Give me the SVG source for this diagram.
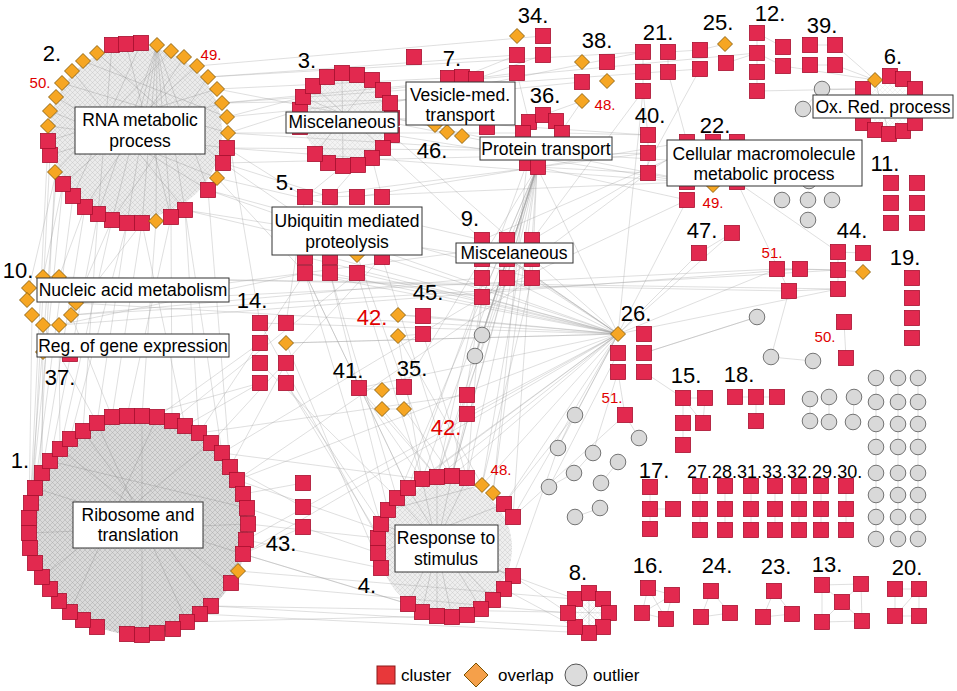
<svg xmlns="http://www.w3.org/2000/svg" xmlns:xlink="http://www.w3.org/1999/xlink" width="957" height="691" viewBox="0 0 957 691">
<style>
.e{stroke:#9c9c9c;stroke-width:.55;opacity:.6;fill:none}
.ei{stroke:#7c7c7c;stroke-width:.5;opacity:.55;fill:none}
.num{font-family:"Liberation Sans",Arial,sans-serif;font-size:22px;fill:#000;text-anchor:middle}
.red{font-family:"Liberation Sans",Arial,sans-serif;font-size:15px;fill:#e00000;text-anchor:middle}
.bigred{font-family:"Liberation Sans",Arial,sans-serif;font-size:22px;fill:#e00000;text-anchor:middle}
.box{fill:#fff;stroke:#333;stroke-width:1}
.bt{font-family:"Liberation Sans",Arial,sans-serif;font-size:17.5px;fill:#000;text-anchor:middle}
.leg{font-family:"Liberation Sans",Arial,sans-serif;font-size:17px;fill:#000}
</style>
<defs>
<rect id="s" x="-7.5" y="-7.5" width="15" height="15" fill="#e2294f" stroke="#a8102f" stroke-width="0.8"/>
<path id="d" d="M0,-7.5L7.5,0L0,7.5L-7.5,0Z" fill="#f6a623" stroke="#7a5200" stroke-width="0.8"/>
<circle id="o" r="7.8" fill="#d9d9d9" stroke="#666" stroke-width="0.9"/>
<pattern id="mesh" width="5" height="5" patternUnits="userSpaceOnUse">
<path d="M0,0L5,5M5,0L0,5" stroke="#a0a0a0" stroke-width="0.4" fill="none"/>
</pattern>
</defs>
<rect width="957" height="691" fill="#fff"/>

<g id="connectors">
<circle cx="139" cy="526" r="109" fill="#dadada"/>
<circle cx="139" cy="526" r="109" fill="url(#mesh)"/>
<circle cx="136" cy="132" r="86" fill="#ebebeb"/>
<circle cx="136" cy="132" r="86" fill="url(#mesh)" opacity=".6"/>
<circle cx="446" cy="548" r="66" fill="#eeeeee"/>
<circle cx="446" cy="548" r="66" fill="url(#mesh)" opacity=".55"/>
<circle cx="345" cy="120" r="42" fill="#f3f3f3"/>
<circle cx="345" cy="120" r="42" fill="url(#mesh)" opacity=".35"/>
<circle cx="889" cy="105" r="22" fill="url(#mesh)" opacity=".3"/>
<circle cx="589" cy="613" r="16" fill="url(#mesh)" opacity=".3"/>
<path class="ei" d="M157,45L127,223M157,45L142,223M157,45L156,221M157,45L171,217M157,45L112,220M157,45L185,210M48,126L227,148M56,97L208,190M72,71L185,210M97,53L223,163M62,83L228,133M50,111L217,178M112,45L98,214M141,43L73,196M197,66L63,184M222,103L50,155M184,57L85,207M171,51L55,172M208,77L112,220M126,44L171,217M83,61L227,117M217,89L48,141M157,45L98,214M157,45L208,190"/>
<path class="ei" d="M50,461L247,508M60,449L231,583M97,423L187,622M35,488L243,554M157,417L70,612M211,443L42,577M29,533L248,524M142,416L142,635M83,431L211,606"/>
<path class="ei" d="M422,479L452,617M437,477L437,616M452,476L422,612M397,498L493,600M381,524L513,576M408,488L481,609M467,478L408,604M378,553L504,504M482,485L388,510"/>
<path class="ei" d="M342,73L343,166M313,86L383,148M372,80L315,154M303,97L392,135M875,80L889,134M863,89L915,123M575,599L603,627M603,599L575,627M589,593L589,633"/>
<path class="e" d="M57,169L29,518M63,184L31,503M73,196L35,488M85,207L42,473M98,214L50,461M112,220L60,449M127,223L97,423M142,223L112,417M156,221L142,416M171,217L172,421M185,210L199,433M208,190L230,467M48,141L29,533M50,155L30,548M55,172L35,563M127,223L70,439M98,214L83,431M171,217L127,416M185,210L222,453M142,223L185,426"/>
<path class="e" d="M228,133L300,110M227,117L303,97M222,103L406,100M217,89L448,78M208,77L517,55M197,66L543,36M227,148L305,197M223,163L330,197M217,178L482,240M208,190L618,334M185,210L456,253M228,133L667,160M222,103L757,53M217,89L713,185M208,77L643,52M227,148L480,150M223,163L357,255M228,133L523,133M217,178L305,273M227,117L582,82M223,163L648,153M208,190L532,278M185,210L382,257M227,148L687,182M222,103L700,69"/>
<path class="e" d="M392,118L480,137M383,148L482,240M392,135L618,334M390,103L643,52M372,158L382,197M358,165L330,197M343,166L305,197M392,118L648,135M383,90L517,73M392,135L687,182M435,125L392,118"/>
<path class="e" d="M537,167L482,297M537,167L507,278M537,167L532,278M537,167L452,476M537,167L467,478M537,167L422,479M537,167L482,485M537,167L467,395M537,167L475,356M537,167L513,517M537,167L404,387M537,167L618,334M537,167L437,477M537,167L482,335M527,163L408,488M582,101L543,115M582,101L537,167M517,73L529,122M543,55L476,79M517,55L462,77M447,132L462,136M537,167L397,498M527,163L493,493"/>
<path class="e" d="M618,334L305,273M618,334L330,273M618,334L357,273M618,334L382,257M618,334L482,297M618,334L507,278M618,334L532,278M618,334L423,316M618,334L398,315M618,334L452,476M618,334L482,485M618,334L513,517M618,334L504,504M618,334L467,414M618,334L437,477M618,334L359,388M618,334L260,323M618,334L286,343M618,334L246,540M618,334L243,554M618,334L838,289M618,334L777,269M618,334L732,233M618,334L643,91M618,334L575,415M618,334L558,448M618,372L593,452M618,353L549,487M618,334L687,200M618,334L482,240M618,334L422,479M618,334L408,488M618,334L305,257M618,334L330,257M618,334L507,259M618,334L237,480"/>
<path class="e" d="M248,524L378,538M246,540L381,568M243,554L408,604M231,583L568,613M211,606L575,627M200,614L589,633M238,571L575,599M247,508L378,553M243,494L303,483M230,467L303,507M222,453L422,479M237,480L513,576M243,554L452,617M199,433L305,273M211,443L382,257M185,426L260,383M172,421L357,273M211,606L609,613M187,622L437,616M243,554L303,527M230,467L286,363M157,417L260,343M222,453L482,297M237,480L532,278M199,433L467,395"/>
<path class="e" d="M422,479L359,388M437,477L382,409M452,476L404,409M467,478L423,334M482,485L398,336M408,488L305,273M397,498L260,363M381,524L286,383M388,510L330,273M452,476L467,414M493,493L537,167M504,504L575,415M513,576L568,613M504,589L575,627M513,576L575,599M305,273L408,488M330,273L397,498M357,273L422,479M357,255L437,477M382,257L452,476M305,273L381,524M359,388L382,390M382,390L404,387M398,315L423,316M398,336L423,334M382,409L404,409M467,395L467,414M422,479L398,336M437,477L359,388M378,538L260,323M381,568L286,343M467,478L482,297M452,476L507,278M437,477L482,278"/>
<path class="e" d="M71,315L838,270M76,303L777,269M59,277L789,291M43,277L838,289M59,325L800,269M43,277L63,184M59,277L85,207M76,303L112,220M71,315L142,223M29,288L57,169M43,325L42,473M59,325L60,449M32,315L29,518M71,315L112,417M76,303L456,253M59,325L305,273M43,325L97,423M76,303L618,334M71,315L482,278"/>
<path class="e" d="M260,323L228,133M286,323L305,197M286,343L618,334M260,383L142,416M286,383L380,538M482,297L452,476M507,278L437,477M532,278L482,485M482,240L618,334M532,240L667,160M482,297L305,273M687,200L537,167M737,182L838,252M687,182L330,197M713,185L643,173M667,160L482,240M648,173L537,167M648,173L482,297M648,135L562,133M687,200L482,297M737,182L789,291M648,153L305,197M687,142L357,197M643,91L532,240"/>
<path class="e" d="M668,72L687,142M643,91L648,135M757,91L863,89M835,65L875,80M835,45L875,80M783,66L875,80M822,89L863,89M726,63L757,53M668,52L700,50M700,69L643,173M757,33L783,47M757,53L783,66M810,45L835,45M810,65L835,65M643,52L643,72M668,52L668,72M643,72L643,91M700,50L725,44M757,33L757,91M648,135L648,173M803,109L822,89"/>
<path class="e" d="M732,233L699,253M777,269L838,270M800,269L838,270M789,291L838,289M789,291L771,357M771,357L813,361M844,322L846,358M863,253L838,252M863,272L838,270M757,317L644,353M777,269L800,269M838,252L838,289M699,253L618,334M644,372L683,398M644,353L757,317M625,415L618,372M482,335L537,167M475,356L537,167M573,416L558,448M593,452L574,473M549,487L574,473M575,517L600,508M601,483L618,462M625,415L513,517M639,438L625,415M558,448L513,576M482,335L475,356"/>
<path class="e" d="M683,398L705,398M683,398L683,423M705,398L703,423M683,423L683,445M683,398L703,423M735,397L756,397M756,397L777,397M756,397L756,421M650,487L650,509M650,509L673,509M650,509L650,529M700,486L700,530M725,486L725,530M751,486L751,530M775,486L775,530M799,486L799,530M821,486L821,530M846,486L846,530M876,378L876,539M898,378L898,539M918,378L918,539M810,399L810,422M829,397L829,422M854,397L853,422M648,588L672,595M648,588L642,613M672,595L666,619M642,613L666,619M648,588L666,619M672,595L642,613M711,591L701,617M711,591L730,613M701,617L730,613M774,591L763,617M774,591L792,614M763,617L792,614M822,585L861,584M822,585L842,602M861,584L842,602M842,602L822,622M842,602L862,621M822,622L862,621M822,585L822,622M861,584L862,621M895,589L919,589M895,589L895,616M919,589L919,616M895,616L919,616M895,616L919,589"/>
</g>

<g id="outliers">
<use href="#o" x="482" y="335"/><use href="#o" x="475" y="356"/>
<use href="#o" x="575" y="415"/><use href="#o" x="639" y="438"/><use href="#o" x="558" y="448"/><use href="#o" x="593" y="453"/><use href="#o" x="618" y="462"/><use href="#o" x="574" y="473"/><use href="#o" x="601" y="483"/><use href="#o" x="549" y="487"/><use href="#o" x="600" y="508"/><use href="#o" x="575" y="517"/>
<use href="#o" x="757" y="317"/><use href="#o" x="771" y="357"/><use href="#o" x="813" y="361"/>
<use href="#o" x="822" y="89"/><use href="#o" x="803" y="109"/>
<use href="#o" x="809" y="181"/><use href="#o" x="782" y="200"/><use href="#o" x="808" y="200"/><use href="#o" x="832" y="200"/><use href="#o" x="808" y="220"/>
<use href="#o" x="810" y="399"/><use href="#o" x="829" y="397"/><use href="#o" x="854" y="397"/><use href="#o" x="810" y="421"/><use href="#o" x="829" y="422"/><use href="#o" x="853" y="422"/>
<use href="#o" x="876" y="378"/><use href="#o" x="898" y="378"/><use href="#o" x="918" y="378"/>
<use href="#o" x="876" y="402"/><use href="#o" x="898" y="402"/><use href="#o" x="918" y="402"/>
<use href="#o" x="876" y="424"/><use href="#o" x="898" y="424"/><use href="#o" x="918" y="424"/>
<use href="#o" x="876" y="447"/><use href="#o" x="898" y="447"/><use href="#o" x="918" y="447"/>
<use href="#o" x="876" y="473"/><use href="#o" x="898" y="473"/><use href="#o" x="918" y="473"/>
<use href="#o" x="876" y="495"/><use href="#o" x="898" y="495"/><use href="#o" x="918" y="495"/>
<use href="#o" x="876" y="517"/><use href="#o" x="898" y="517"/><use href="#o" x="918" y="517"/>
<use href="#o" x="876" y="539"/><use href="#o" x="898" y="539"/><use href="#o" x="918" y="539"/>
</g>

<g id="c2">
<use href="#s" x="50" y="155"/><use href="#s" x="48" y="141"/><use href="#s" x="112" y="45"/><use href="#s" x="126" y="44"/><use href="#s" x="141" y="43"/><use href="#s" x="227" y="148"/><use href="#s" x="223" y="163"/><use href="#s" x="208" y="190"/><use href="#s" x="185" y="210"/><use href="#s" x="171" y="217"/><use href="#s" x="142" y="223"/><use href="#s" x="127" y="223"/><use href="#s" x="112" y="220"/><use href="#s" x="98" y="214"/><use href="#s" x="85" y="207"/><use href="#s" x="73" y="196"/><use href="#s" x="63" y="184"/>
<use href="#d" x="55" y="172"/><use href="#d" x="48" y="126"/><use href="#d" x="50" y="111"/><use href="#d" x="56" y="97"/><use href="#d" x="62" y="83"/><use href="#d" x="72" y="71"/><use href="#d" x="83" y="61"/><use href="#d" x="97" y="53"/><use href="#d" x="157" y="45"/><use href="#d" x="171" y="51"/><use href="#d" x="184" y="57"/><use href="#d" x="197" y="66"/><use href="#d" x="208" y="77"/><use href="#d" x="217" y="89"/><use href="#d" x="222" y="103"/><use href="#d" x="227" y="117"/><use href="#d" x="228" y="133"/><use href="#d" x="217" y="178"/><use href="#d" x="156" y="221"/>
<text class="num" x="52" y="61">2.</text>
<text class="red" x="211" y="60">49.</text>
<text class="red" x="40" y="88">50.</text>
<rect class="box" x="75" y="107" width="130" height="47"/>
<text class="bt" x="140" y="126">RNA metabolic</text>
<text class="bt" x="140" y="147">process</text>
</g>

<g id="c3">
<use href="#s" x="342" y="73"/><use href="#s" x="357" y="75"/><use href="#s" x="372" y="80"/><use href="#s" x="383" y="90"/><use href="#s" x="390" y="103"/><use href="#s" x="392" y="118"/><use href="#s" x="392" y="135"/><use href="#s" x="383" y="148"/><use href="#s" x="372" y="158"/><use href="#s" x="358" y="165"/><use href="#s" x="343" y="166"/><use href="#s" x="328" y="163"/><use href="#s" x="315" y="154"/><use href="#s" x="300" y="127"/><use href="#s" x="300" y="110"/><use href="#s" x="303" y="97"/><use href="#s" x="313" y="86"/><use href="#s" x="327" y="77"/>
<text class="num" x="307" y="68">3.</text>
<rect class="box" x="286" y="112" width="112" height="21"/>
<text class="bt" x="342" y="128">Miscelaneous</text>
</g>

<g id="c7">
<use href="#s" x="414" y="57"/>
<use href="#s" x="448" y="78"/><use href="#s" x="462" y="77"/><use href="#s" x="476" y="79"/><use href="#s" x="487" y="127"/>
<use href="#d" x="435" y="125"/><use href="#d" x="447" y="132"/><use href="#d" x="462" y="136"/>
<text class="num" x="452" y="66">7.</text>
<text class="num" x="432" y="158">46.</text>
<rect class="box" x="406" y="82" width="109" height="43"/>
<text class="bt" x="460" y="101">Vesicle-med.</text>
<text class="bt" x="460" y="121">transport</text>
</g>

<g id="c34">
<use href="#d" x="517" y="36"/><use href="#s" x="543" y="36"/><use href="#s" x="543" y="55"/><use href="#s" x="517" y="55"/><use href="#s" x="517" y="73"/>
<text class="num" x="533" y="23">34.</text>
</g>

<g id="c38">
<use href="#d" x="582" y="62"/><use href="#s" x="607" y="62"/><use href="#s" x="582" y="82"/><use href="#d" x="607" y="81"/><use href="#d" x="582" y="101"/>
<text class="num" x="597" y="48">38.</text>
<text class="red" x="605" y="110">48.</text>
</g>

<g id="c36">
<use href="#s" x="529" y="122"/><use href="#s" x="543" y="115"/><use href="#s" x="556" y="121"/><use href="#s" x="523" y="133"/><use href="#s" x="562" y="133"/><use href="#s" x="527" y="163"/><use href="#s" x="538" y="167"/>
<text class="num" x="545" y="103">36.</text>
<rect class="box" x="480" y="137" width="132" height="23"/>
<text class="bt" x="546" y="155">Protein transport</text>
</g>

<g id="c5">
<use href="#s" x="305" y="197"/><use href="#s" x="330" y="197"/><use href="#s" x="357" y="197"/><use href="#s" x="382" y="197"/>
<use href="#s" x="305" y="257"/><use href="#s" x="330" y="257"/><use href="#d" x="357" y="255"/><use href="#s" x="382" y="257"/>
<use href="#s" x="305" y="273"/><use href="#s" x="330" y="273"/><use href="#s" x="357" y="273"/>
<text class="num" x="285" y="190">5.</text>
<rect class="box" x="272" y="207" width="150" height="48"/>
<text class="bt" x="347" y="227">Ubiquitin mediated</text>
<text class="bt" x="347" y="248">proteolysis</text>
</g>

<g id="c9">
<use href="#s" x="482" y="240"/><use href="#s" x="507" y="240"/><use href="#s" x="532" y="240"/>
<use href="#s" x="482" y="259"/><use href="#s" x="507" y="259"/><use href="#s" x="532" y="259"/>
<use href="#s" x="482" y="278"/><use href="#s" x="507" y="278"/><use href="#s" x="532" y="278"/>
<use href="#s" x="482" y="297"/>
<text class="num" x="470" y="226">9.</text>
<rect class="box" x="456" y="243" width="117" height="20"/>
<text class="bt" x="514" y="259">Miscelaneous</text>
</g>

<g id="c10">
<use href="#d" x="43" y="277"/><use href="#d" x="59" y="277"/><use href="#d" x="29" y="288"/><use href="#d" x="27" y="300"/><use href="#d" x="32" y="315"/><use href="#d" x="43" y="325"/><use href="#d" x="59" y="325"/><use href="#d" x="71" y="315"/><use href="#d" x="76" y="303"/>
<text class="num" x="18" y="278">10.</text>
<rect class="box" x="37" y="278" width="192" height="24"/>
<text class="bt" x="133" y="296">Nucleic acid metabolism</text>
</g>

<g id="c37">
<use href="#d" x="43" y="352"/><use href="#s" x="70" y="354"/>
<text class="num" x="60" y="385">37.</text>
<rect class="box" x="37" y="334" width="192" height="23"/>
<text class="bt" x="133" y="352">Reg. of gene expression</text>
</g>

<g id="c14">
<use href="#s" x="260" y="323"/><use href="#s" x="260" y="343"/><use href="#s" x="260" y="363"/><use href="#s" x="260" y="383"/>
<use href="#s" x="286" y="323"/><use href="#d" x="286" y="343"/><use href="#s" x="286" y="363"/><use href="#s" x="286" y="383"/>
<text class="num" x="252" y="308">14.</text>
</g>

<g id="c1">
<use href="#s" x="112" y="417"/><use href="#s" x="127" y="416"/><use href="#s" x="142" y="416"/><use href="#s" x="157" y="417"/><use href="#s" x="172" y="421"/><use href="#s" x="185" y="426"/><use href="#s" x="199" y="433"/><use href="#s" x="211" y="443"/><use href="#s" x="222" y="453"/><use href="#s" x="230" y="467"/><use href="#s" x="237" y="480"/><use href="#s" x="243" y="494"/><use href="#s" x="247" y="508"/><use href="#s" x="248" y="524"/><use href="#s" x="246" y="540"/><use href="#s" x="243" y="554"/><use href="#s" x="231" y="583"/>
<use href="#s" x="211" y="606"/><use href="#s" x="200" y="614"/><use href="#s" x="187" y="622"/><use href="#s" x="173" y="629"/><use href="#s" x="157" y="633"/><use href="#s" x="142" y="635"/><use href="#s" x="127" y="634"/><use href="#s" x="97" y="627"/><use href="#s" x="83" y="620"/><use href="#s" x="70" y="612"/><use href="#s" x="59" y="601"/><use href="#s" x="50" y="589"/><use href="#s" x="42" y="577"/><use href="#s" x="35" y="563"/><use href="#s" x="30" y="548"/><use href="#s" x="29" y="533"/><use href="#s" x="29" y="518"/><use href="#s" x="31" y="503"/><use href="#s" x="35" y="488"/><use href="#s" x="42" y="473"/><use href="#s" x="50" y="461"/><use href="#s" x="60" y="449"/><use href="#s" x="70" y="439"/><use href="#s" x="83" y="431"/><use href="#s" x="97" y="423"/>
<use href="#d" x="238" y="571"/>
<text class="num" x="20" y="468">1.</text>
<rect class="box" x="73" y="502" width="130" height="46"/>
<text class="bt" x="138" y="521">Ribosome and</text>
<text class="bt" x="138" y="541">translation</text>
</g>

<g id="c43">
<use href="#s" x="303" y="483"/><use href="#s" x="303" y="507"/><use href="#s" x="303" y="527"/>
<text class="num" x="281" y="551">43.</text>
</g>

<g id="c4">
<use href="#s" x="422" y="479"/><use href="#s" x="437" y="477"/><use href="#s" x="452" y="476"/><use href="#s" x="467" y="478"/><use href="#s" x="504" y="504"/><use href="#s" x="513" y="517"/>
<use href="#s" x="513" y="576"/><use href="#s" x="504" y="589"/><use href="#s" x="493" y="600"/><use href="#s" x="481" y="609"/><use href="#s" x="467" y="615"/><use href="#s" x="452" y="617"/><use href="#s" x="437" y="616"/><use href="#s" x="422" y="612"/><use href="#s" x="408" y="604"/>
<use href="#s" x="381" y="568"/><use href="#s" x="378" y="553"/><use href="#s" x="378" y="538"/><use href="#s" x="381" y="524"/><use href="#s" x="388" y="510"/><use href="#s" x="397" y="498"/><use href="#s" x="408" y="488"/>
<use href="#d" x="482" y="485"/><use href="#d" x="493" y="493"/>
<text class="red" x="501" y="475">48.</text>
<text class="num" x="367" y="593">4.</text>
<rect class="box" x="395" y="525" width="103" height="47"/>
<text class="bt" x="446" y="544">Response to</text>
<text class="bt" x="446" y="565">stimulus</text>
</g>

<g id="c8">
<use href="#s" x="575" y="599"/><use href="#s" x="589" y="593"/><use href="#s" x="603" y="599"/><use href="#s" x="609" y="613"/><use href="#s" x="603" y="627"/><use href="#s" x="589" y="633"/><use href="#s" x="575" y="627"/><use href="#s" x="568" y="613"/>
<text class="num" x="578" y="580">8.</text>
</g>

<g id="c42">
<use href="#d" x="398" y="315"/><use href="#d" x="398" y="336"/>
<text class="bigred" x="372" y="325">42.</text>
<use href="#s" x="467" y="395"/><use href="#s" x="467" y="414"/>
<text class="bigred" x="446" y="435">42.</text>
</g>

<g id="c45">
<use href="#s" x="423" y="316"/><use href="#s" x="423" y="334"/>
<text class="num" x="428" y="300">45.</text>
</g>

<g id="c41">
<use href="#s" x="359" y="388"/>
<text class="num" x="348" y="378">41.</text>
</g>

<g id="c35">
<use href="#d" x="382" y="390"/><use href="#s" x="404" y="387"/><use href="#d" x="382" y="409"/><use href="#d" x="404" y="409"/>
<text class="num" x="412" y="376">35.</text>
</g>

<g id="c26">
<use href="#d" x="618" y="334"/><use href="#s" x="644" y="334"/><use href="#s" x="618" y="353"/><use href="#s" x="644" y="353"/><use href="#s" x="618" y="372"/><use href="#s" x="644" y="372"/>
<text class="num" x="636" y="321">26.</text>
</g>

<g id="c51">
<use href="#s" x="625" y="415"/>
<text class="red" x="612" y="403">51.</text>
<use href="#s" x="777" y="269"/><use href="#s" x="800" y="269"/><use href="#s" x="789" y="291"/>
<text class="red" x="772" y="258">51.</text>
</g>

<g id="c47">
<use href="#s" x="732" y="233"/><use href="#s" x="699" y="253"/>
<text class="num" x="702" y="238">47.</text>
</g>

<g id="c44">
<use href="#s" x="838" y="252"/><use href="#s" x="863" y="253"/><use href="#s" x="838" y="270"/><use href="#d" x="863" y="272"/><use href="#s" x="838" y="289"/>
<text class="num" x="852" y="238">44.</text>
</g>

<g id="c19">
<use href="#s" x="912" y="278"/><use href="#s" x="912" y="298"/><use href="#s" x="912" y="318"/><use href="#s" x="912" y="338"/>
<text class="num" x="905" y="265">19.</text>
</g>

<g id="c50">
<use href="#s" x="844" y="322"/><use href="#s" x="846" y="358"/>
<text class="red" x="825" y="342">50.</text>
</g>

<g id="c15">
<use href="#s" x="683" y="398"/><use href="#s" x="705" y="398"/><use href="#s" x="683" y="423"/><use href="#s" x="703" y="423"/><use href="#s" x="683" y="445"/>
<text class="num" x="686" y="383">15.</text>
</g>

<g id="c18">
<use href="#s" x="735" y="397"/><use href="#s" x="756" y="397"/><use href="#s" x="777" y="397"/><use href="#s" x="756" y="421"/>
<text class="num" x="739" y="382">18.</text>
</g>

<g id="c17">
<use href="#s" x="650" y="487"/><use href="#s" x="650" y="509"/><use href="#s" x="673" y="509"/><use href="#s" x="650" y="529"/>
<text class="num" x="654" y="478">17.</text>
</g>

<g id="c27-30">
<use href="#s" x="700" y="486"/><use href="#s" x="700" y="509"/><use href="#s" x="700" y="530"/>
<use href="#s" x="725" y="486"/><use href="#s" x="725" y="509"/><use href="#s" x="725" y="530"/>
<use href="#s" x="751" y="486"/><use href="#s" x="751" y="509"/><use href="#s" x="751" y="530"/>
<use href="#s" x="775" y="486"/><use href="#s" x="775" y="509"/><use href="#s" x="775" y="530"/>
<use href="#s" x="799" y="486"/><use href="#s" x="799" y="509"/><use href="#s" x="799" y="530"/>
<use href="#s" x="821" y="486"/><use href="#s" x="821" y="509"/><use href="#s" x="821" y="530"/>
<use href="#s" x="846" y="486"/><use href="#s" x="846" y="509"/><use href="#s" x="846" y="530"/>
<text x="687" y="478" font-family="Liberation Sans, Arial, sans-serif" font-size="18" fill="#000">27.28.31.33.32.29.30.</text>
</g>

<g id="c16">
<use href="#s" x="648" y="588"/><use href="#s" x="672" y="595"/><use href="#s" x="642" y="613"/><use href="#s" x="666" y="619"/>
<text class="num" x="648" y="573">16.</text>
</g>
<g id="c24">
<use href="#s" x="711" y="591"/><use href="#s" x="701" y="617"/><use href="#s" x="730" y="613"/>
<text class="num" x="717" y="573">24.</text>
</g>
<g id="c23">
<use href="#s" x="774" y="591"/><use href="#s" x="763" y="617"/><use href="#s" x="792" y="614"/>
<text class="num" x="776" y="574">23.</text>
</g>
<g id="c13">
<use href="#s" x="822" y="585"/><use href="#s" x="861" y="584"/><use href="#s" x="842" y="602"/><use href="#s" x="822" y="622"/><use href="#s" x="862" y="621"/>
<text class="num" x="827" y="572">13.</text>
</g>
<g id="c20">
<use href="#s" x="895" y="589"/><use href="#s" x="919" y="589"/><use href="#s" x="895" y="616"/><use href="#s" x="919" y="616"/>
<text class="num" x="907" y="575">20.</text>
</g>

<g id="c21">
<use href="#s" x="643" y="52"/><use href="#s" x="668" y="52"/><use href="#s" x="643" y="72"/><use href="#s" x="668" y="72"/><use href="#s" x="643" y="91"/>
<text class="num" x="658" y="40">21.</text>
</g>
<g id="c25">
<use href="#s" x="700" y="50"/><use href="#s" x="700" y="69"/><use href="#d" x="725" y="44"/><use href="#s" x="726" y="63"/>
<text class="num" x="718" y="30">25.</text>
</g>
<g id="c12">
<use href="#s" x="757" y="33"/><use href="#s" x="757" y="53"/><use href="#s" x="757" y="72"/><use href="#s" x="757" y="91"/><use href="#s" x="783" y="47"/><use href="#s" x="783" y="66"/>
<text class="num" x="770" y="21">12.</text>
</g>
<g id="c39">
<use href="#s" x="810" y="45"/><use href="#s" x="835" y="45"/><use href="#s" x="810" y="65"/><use href="#s" x="835" y="65"/>
<text class="num" x="822" y="33">39.</text>
</g>

<g id="c6">
<use href="#s" x="890" y="76"/><use href="#s" x="903" y="79"/><use href="#s" x="915" y="89"/><use href="#s" x="863" y="89"/><use href="#d" x="875" y="80"/>
<use href="#s" x="863" y="123"/><use href="#s" x="875" y="130"/><use href="#s" x="889" y="134"/><use href="#s" x="903" y="131"/><use href="#s" x="915" y="123"/>
<text class="num" x="893" y="64">6.</text>
<rect class="box" x="813" y="95" width="140" height="23"/>
<text class="bt" x="883" y="113">Ox. Red. process</text>
</g>

<g id="c40">
<use href="#s" x="648" y="135"/><use href="#s" x="648" y="153"/><use href="#s" x="648" y="173"/>
<text class="num" x="650" y="123">40.</text>
</g>

<g id="c22">
<use href="#s" x="687" y="142"/><use href="#s" x="713" y="142"/><use href="#s" x="737" y="142"/>
<use href="#s" x="687" y="182"/><use href="#s" x="737" y="182"/><use href="#s" x="687" y="200"/><use href="#d" x="713" y="185"/>
<text class="num" x="715" y="133">22.</text>
<text class="red" x="713" y="208">49.</text>
<rect class="box" x="667" y="140" width="195" height="46"/>
<text class="bt" x="764" y="160">Cellular macromolecule</text>
<text class="bt" x="764" y="180">metabolic process</text>
</g>

<g id="c11">
<use href="#s" x="891" y="183"/><use href="#s" x="917" y="183"/><use href="#s" x="891" y="203"/><use href="#s" x="917" y="203"/><use href="#s" x="891" y="223"/><use href="#s" x="917" y="223"/>
<text class="num" x="885" y="171">11.</text>
</g>

<g id="legend">
<rect x="377" y="666" width="18" height="18" fill="#e8383a" stroke="#8b1a1a" stroke-width="1"/>
<text class="leg" x="401" y="681">cluster</text>
<path d="M476,663L488,675L476,687L464,675Z" fill="#f5a04a" stroke="#7a5200" stroke-width="1"/>
<text class="leg" x="498" y="681">overlap</text>
<circle cx="576" cy="675" r="11" fill="#dcdcdc" stroke="#555" stroke-width="1"/>
<text class="leg" x="593" y="681">outlier</text>
</g>
</svg>
